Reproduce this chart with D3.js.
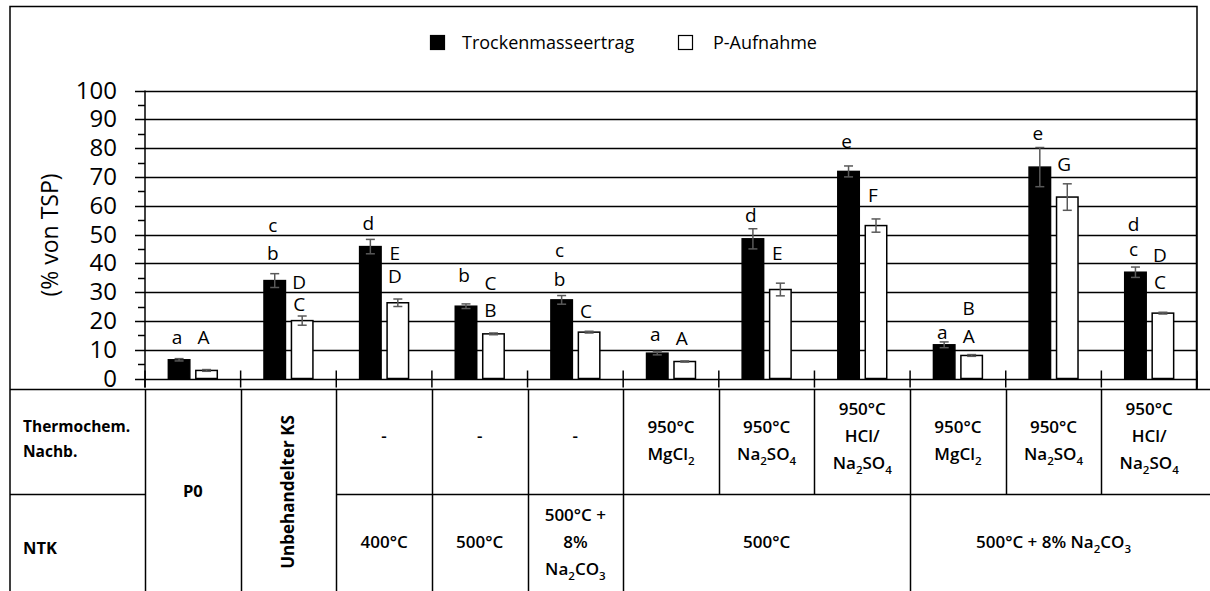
<!DOCTYPE html>
<html>
<head>
<meta charset="utf-8">
<script src="https://cdn.jsdelivr.net/npm/d3@7"></script>
<style>
  body { margin: 0; background: #fff; }
  text { font-family: "Open Sans", "Noto Sans", sans-serif; fill: #000; }
</style>
</head>
<body>
<div id="chart"></div>
<script>
// values (% von TSP)
const categories = ["P0", "Unbehandelter KS", "400", "500", "500+8", "500 MgCl2", "500 Na2SO4", "500 HCl", "8 MgCl2", "8 Na2SO4", "8 HCl"]
const yieldVals  = [6.5, 34.0, 45.8, 25.1, 27.3, 8.8, 48.5, 71.9, 11.7, 73.4, 36.9]
const yieldErr   = [0.4, 2.4, 2.5, 0.8, 1.5, 0.6, 3.5, 1.9, 1.0, 6.8, 1.8]
const uptakeVals = [2.8, 20.1, 26.3, 15.5, 16.1, 5.9, 30.9, 53.1, 8.0, 63.0, 22.7]
const uptakeErr  = [0.3, 1.6, 1.3, 0.3, 0.3, 0.2, 2.2, 2.3, 0.3, 4.6, 0.3]

// significance letters and the y level (in % units) they sit at
const yieldLetters  = [["a"], ["b", "c"], ["d"], ["b"], ["b", "c"], ["a"], ["d"], ["e"], ["a"], ["e"], ["c", "d"]]
const yieldLetterY  = [[14.3], [43.5, 53.1], [53.7], [35.8], [34.4, 44.4], [15.2], [56.6], [82.3], [16.0], [85.0], [44.7, 53.5]]
const uptakeLetters = [["A"], ["C", "D"], ["D", "E"], ["B", "C"], ["C"], ["A"], ["E"], ["F"], ["A", "B"], ["G"], ["C", "D"]]
const uptakeLetterY = [[14.3], [25.7, 33.4], [35.4, 43.3], [23.6, 32.9], [23.4], [14.1], [43.3], [63.5], [14.7, 24.2], [74.5], [33.4, 42.7]]

const seriesNames = ["Trockenmasseertrag", "P-Aufnahme"]
const yTicks = [0, 10, 20, 30, 40, 50, 60, 70, 80, 90, 100]

// table below the chart ("_2" = subscript)
const thermoCells = ["-", "-", "-", "950°C\nMgCl_2", "950°C\nNa_2SO_4", "950°C\nHCl/\nNa_2SO_4",
                     "950°C\nMgCl_2", "950°C\nNa_2SO_4", "950°C\nHCl/\nNa_2SO_4"]   // categories 2..10
const ntkCells = [
    {from: 2, to: 3, text: "400°C"},
    {from: 3, to: 4, text: "500°C"},
    {from: 4, to: 5, text: "500°C +\n8%\nNa_2CO_3"},
    {from: 5, to: 8, text: "500°C"},
    {from: 8, to: 11, text: "500°C + 8% Na_2CO_3"},
]

const W = 1210, H = 591
const plotL = 145, plotR = 1197, plotT = 90.5, plotB = 378.5
const tableT = 389.5, tableMid = 494.5
const line_w = 1.5, err_color = "#595959"

const svg = d3.select("#chart").append("svg")
    .attr("width", W).attr("height", H)

const x = d3.scaleBand().domain(categories).range([plotL, plotR]).padding(0)
const xs = d3.scaleBand().domain(seriesNames).range([0, x.bandwidth()])
    .paddingInner(0.218).paddingOuter(0.85)
const y = d3.scaleLinear().domain([0, 100]).range([plotB, plotT])

// outer frame
svg.append("path")
    .attr("d", `M10,${H} V6.5 H${plotR} V${tableT}`)
    .attr("fill", "none").attr("stroke", "#000").attr("stroke-width", line_w)

// legend
const legend = svg.append("g").attr("class", "legend")
const legendX = [430, 678], legendTextX = [462, 713]
seriesNames.forEach((s, i) => {
    legend.append("rect")
        .attr("x", legendX[i] + 0.5).attr("y", 35.5).attr("width", 14).attr("height", 14)
        .attr("fill", i == 0 ? "#000" : "#fff").attr("stroke", "#000").attr("stroke-width", 1.2)
    legend.append("text")
        .attr("x", legendTextX[i]).attr("y", 42.5).attr("dy", "0.35em")
        .attr("font-size", "18px")
        .text(s)
})

// gridlines
svg.append("g").selectAll("line")
    .data(yTicks)
    .join("line")
    .attr("x1", plotL - 10).attr("x2", plotR)
    .attr("y1", d => Math.round(y(d)) + 0.5).attr("y2", d => Math.round(y(d)) + 0.5)
    .attr("stroke", "#000").attr("stroke-width", line_w)

// minor ticks
svg.append("g").selectAll("line")
    .data(d3.range(5, 100, 10))
    .join("line")
    .attr("x1", plotL - 7).attr("x2", plotL)
    .attr("y1", d => Math.round(y(d)) + 0.5).attr("y2", d => Math.round(y(d)) + 0.5)
    .attr("stroke", "#000").attr("stroke-width", line_w)

// y axis
const yAxis = svg.append("g")
    .attr("transform", `translate(${plotL},0)`)
    .call(d3.axisLeft(y).tickValues(yTicks).tickSize(10).tickPadding(18).tickFormat(d3.format("d")))
yAxis.select(".domain").remove()
yAxis.selectAll("line").remove()
yAxis.selectAll("text").attr("font-size", "24px").attr("font-family", "Open Sans").attr("fill", "#000")

svg.append("line")
    .attr("x1", plotL).attr("x2", plotL).attr("y1", plotT).attr("y2", tableT - 2)
    .attr("stroke", "#000").attr("stroke-width", line_w)
svg.append("line")
    .attr("x1", plotR - 0.5).attr("x2", plotR - 0.5).attr("y1", plotT).attr("y2", tableT)
    .attr("stroke", "#000").attr("stroke-width", line_w)

svg.append("text")
    .attr("transform", `translate(50,235) rotate(-90)`)
    .attr("text-anchor", "middle").attr("dy", "0.35em")
    .attr("font-size", "23px")
    .text("(% von TSP)")

// x tick marks at category borders
svg.append("g").selectAll("line")
    .data(categories.concat(["end"]))
    .join("line")
    .attr("x1", d => d == "end" ? plotR : x(d)).attr("x2", d => d == "end" ? plotR : x(d))
    .attr("y1", plotB - 8).attr("y2", plotB + 9)
    .attr("stroke", "#000").attr("stroke-width", line_w)

// bars
const series = [
    {name: seriesNames[0], vals: yieldVals, err: yieldErr, letters: yieldLetters, ly: yieldLetterY, fill: "#000", dx: -2},
    {name: seriesNames[1], vals: uptakeVals, err: uptakeErr, letters: uptakeLetters, ly: uptakeLetterY, fill: "#fff", dx: -3},
]

series.forEach(s => {
    const g = svg.append("g")
    const rows = categories.map((c, i) => ({c: c, v: s.vals[i], e: s.err[i], L: s.letters[i], ly: s.ly[i]}))
    const cx = d => x(d.c) + xs(s.name) + xs.bandwidth() / 2

    g.selectAll("rect")
        .data(rows)
        .join("rect")
        .attr("x", d => x(d.c) + xs(s.name))
        .attr("y", d => y(d.v))
        .attr("width", xs.bandwidth())
        .attr("height", d => y(0) - y(d.v))
        .attr("fill", s.fill).attr("stroke", "#000").attr("stroke-width", line_w)

    // error bars
    const eb = g.selectAll("g.err").data(rows).join("g").attr("class", "err")
        .attr("stroke", err_color).attr("stroke-width", 1.5)
    eb.append("line")
        .attr("x1", cx).attr("x2", cx)
        .attr("y1", d => y(d.v + d.e)).attr("y2", d => y(d.v - d.e))
    eb.append("line")
        .attr("x1", d => cx(d) - 4.5).attr("x2", d => cx(d) + 4.5)
        .attr("y1", d => y(d.v + d.e)).attr("y2", d => y(d.v + d.e))
    eb.append("line")
        .attr("x1", d => cx(d) - 4.5).attr("x2", d => cx(d) + 4.5)
        .attr("y1", d => y(d.v - d.e)).attr("y2", d => y(d.v - d.e))

    // letters
    rows.forEach(d => {
        d.L.forEach((t, k) => {
            g.append("text")
                .attr("x", cx(d) + s.dx).attr("y", y(d.ly[k])).attr("dy", "0.35em")
                .attr("text-anchor", "middle").attr("font-size", "19px")
                .text(t)
        })
    })
})

// ---- table ----
const tbl = svg.append("g").attr("stroke", "#000").attr("stroke-width", line_w)
const colX = i => i >= categories.length ? plotR : x(categories[i])

tbl.append("line").attr("x1", 10).attr("x2", W).attr("y1", tableT).attr("y2", tableT)
tbl.append("line").attr("x1", 10).attr("x2", plotL).attr("y1", tableMid).attr("y2", tableMid)
tbl.append("line").attr("x1", colX(2)).attr("x2", W).attr("y1", tableMid).attr("y2", tableMid)

// column lines: full height where NTK cells split, upper row only otherwise
const ntkBorders = new Set([0, 1, 2].concat(ntkCells.map(c => c.from)))
d3.range(0, categories.length).forEach(i => {
    const full = ntkBorders.has(i)
    tbl.append("line")
        .attr("x1", Math.round(colX(i)) + 0.5).attr("x2", Math.round(colX(i)) + 0.5)
        .attr("y1", tableT).attr("y2", full ? H : tableMid)
})

// text helper: lines split by \n, "_N" = subscript digit
function richText(g, cx, cy, str, size, weight, gap) {
    const lines = str.split("\n")
    lines.forEach((ln, k) => {
        const t = g.append("text")
            .attr("x", cx).attr("y", cy + (k - (lines.length - 1) / 2) * gap)
            .attr("dy", "0.35em").attr("text-anchor", "middle")
            .attr("font-size", size + "px").attr("font-weight", weight)
        const parts = ln.split(/(_\d)/).filter(p => p.length)
        let shifted = false
        parts.forEach(p => {
            if (p[0] == "_") {
                t.append("tspan").attr("font-size", (size * 0.68) + "px")
                    .attr("dy", shifted ? 0 : 5).text(p.slice(1))
                shifted = true
            } else {
                t.append("tspan").attr("dy", shifted ? -5 : 0).text(p)
                shifted = false
            }
        })
    })
}

const tt = svg.append("g")
const cellFont = 17, cellWeight = 600

tt.append("text").attr("x", 23).attr("y", 432).attr("font-size", "15.5px").attr("font-weight", 700).text("Thermochem.")
tt.append("text").attr("x", 23).attr("y", 457).attr("font-size", "15.5px").attr("font-weight", 700).text("Nachb.")
tt.append("text").attr("x", 23).attr("y", 548).attr("dy", "0.35em").attr("font-size", "16.5px").attr("font-weight", 700).text("NTK")

richText(tt, x(categories[0]) + x.bandwidth() / 2, 497, "P0", 16.5, 700, 26)
tt.append("text")
    .attr("transform", `translate(${x(categories[1]) + x.bandwidth() / 2},492) rotate(-90)`)
    .attr("text-anchor", "middle").attr("dy", "0.35em")
    .attr("font-size", "17px").attr("font-weight", 700)
    .text("Unbehandelter KS")

thermoCells.forEach((s, k) => {
    const c = categories[k + 2]
    const n = s.split("\n").length
    richText(tt, x(c) + x.bandwidth() / 2, n == 2 ? 446 : 442, s, cellFont, cellWeight, 27)
})
ntkCells.forEach(d => {
    richText(tt, (colX(d.from) + colX(d.to)) / 2, 548, d.text, cellFont, cellWeight, 27)
})
</script>
</body>
</html>
